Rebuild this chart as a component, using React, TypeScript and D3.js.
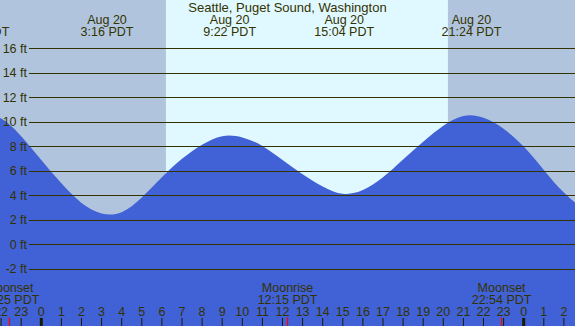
import React from "react";
import * as d3 from "d3";

// hours relative to midnight Aug 20 (PDT), heights in ft
const hours = [-3, -2, -1, 0, 1, 2, 3, 4, 5, 6, 7, 8, 9, 10, 11, 12, 13, 14, 15, 16, 17, 18, 19, 20, 21, 22, 23, 24, 25, 26, 27];
const heights = [10.6, 10.25, 8.8, 6.85, 4.95, 3.35, 2.5, 2.6, 3.8, 5.45, 6.95, 8.1, 8.8, 8.7, 8.0, 6.85, 5.7, 4.7, 4.1, 4.4, 5.45, 6.9, 8.35, 9.65, 10.45, 10.3, 9.4, 7.95, 6.05, 4.2, 2.8];

const tideTimes = [-3.08, 3.27, 9.37, 15.07, 21.4];
const tideDates = ["Aug 19", "Aug 20", "Aug 20", "Aug 20", "Aug 20"];
const tideLabels = ["20:55 PDT", "3:16 PDT", "9:22 PDT", "15:04 PDT", "21:24 PDT"];

const moonTimes = [-1.583, 12.25, 22.9];
const moonNames = ["Moonset", "Moonrise", "Moonset"];
const moonLabels = ["22:25 PDT", "12:15 PDT", "22:54 PDT"];

const sunrise = 6.2;
const sunset = 20.23;

const feetTicks = [-2, 0, 2, 4, 6, 8, 10, 12, 14, 16];
const hourTicks = d3.range(-2, 27);

const title = "Seattle, Puget Sound, Washington";

const W = 575;
const H = 326;
const ink = "#333300";
const font = "'Liberation Sans', Arial, sans-serif";

export default function App() {
  const x = d3.scaleLinear().domain([0, 24]).range([41.3, 523.7]);
  const y = d3.scaleLinear().domain([-2, 16]).range([268.5, 48]);

  const water = d3
    .area<number>()
    .x((d, i) => x(hours[i]))
    .y0(H)
    .y1((d) => y(d))
    .curve(d3.curveNatural)(heights);

  return (
    <svg
      width={W}
      height={H}
      style={{ position: "absolute", left: 0, top: 0, fontFamily: font }}
    >
      {/* night / day background */}
      <rect x={0} y={0} width={W} height={H} fill="#b0c4de" />
      <rect x={x(sunrise)} y={0} width={x(sunset) - x(sunrise)} height={H} fill="#e0f8ff" />

      <path d={water || ""} fill="#4161d6" />

      {/* depth grid */}
      {feetTicks.map((f) => (
        <g key={f}>
          <line x1={29} x2={W} y1={Math.round(y(f)) + 0.5} y2={Math.round(y(f)) + 0.5} stroke={ink} strokeWidth={1} />
          <text x={27} y={y(f) + 4.5} textAnchor="end" fontSize={12.5} fill={ink}>
            {f} ft
          </text>
        </g>
      ))}

      <text x={W / 2} y={12} textAnchor="middle" fontSize={13} fill={ink}>
        {title}
      </text>

      {tideTimes.map((t, i) => (
        <g key={i}>
          <text x={x(t)} y={24} textAnchor="middle" fontSize={12.5} fill={ink}>
            {tideDates[i]}
          </text>
          <text x={x(t)} y={36} textAnchor="middle" fontSize={12.5} fill={ink}>
            {tideLabels[i]}
          </text>
        </g>
      ))}

      {moonTimes.map((t, i) => (
        <g key={i}>
          <text x={x(t)} y={292} textAnchor="middle" fontSize={12.5} fill={ink}>
            {moonNames[i]}
          </text>
          <text x={x(t)} y={304} textAnchor="middle" fontSize={12.5} fill={ink}>
            {moonLabels[i]}
          </text>
          <line x1={x(t)} x2={x(t)} y1={317.5} y2={H} stroke="#ff0000" strokeWidth={1.2} />
        </g>
      ))}

      {hourTicks.map((h) => {
        const mid = ((h % 24) + 24) % 24 === 0;
        return (
          <g key={h}>
            <text x={x(h)} y={316} textAnchor="middle" fontSize={12.5} fill={ink}>
              {((h % 24) + 24) % 24}
            </text>
            <line x1={x(h)} x2={x(h)} y1={318} y2={H} stroke="#1a1a00" strokeWidth={mid ? 3 : 1} />
          </g>
        );
      })}
    </svg>
  );
}
